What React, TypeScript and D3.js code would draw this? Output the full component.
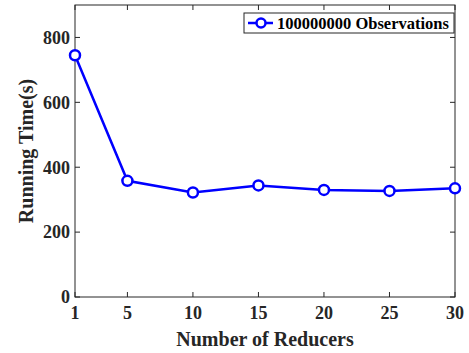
import React from "react";
import * as d3 from "d3";

const reducers = [1, 5, 10, 15, 20, 25, 30];
const runningTime = [745, 358, 322, 344, 330, 327, 335];
const xTicks = [1, 5, 10, 15, 20, 25, 30];
const yTicks = [0, 200, 400, 600, 800];
const seriesName = "100000000 Observations";
const xLabel = "Number of Reducers";
const yLabel = "Running Time(s)";

const W = 469, H = 353;
const M = { left: 75, right: 14, top: 5, bottom: 56 };
const FONT = "'Liberation Serif', 'Times New Roman', serif";

export default function App() {
  const x = d3.scaleLinear().domain([1, 30]).range([M.left, W - M.right]);
  const y = d3.scaleLinear().domain([0, 900]).range([H - M.bottom, M.top]);
  const line = d3.line<number>().x((_, i) => x(reducers[i])).y((d) => y(d));
  const axisColor = "#262626";
  const x0 = x.range()[0], x1 = x.range()[1], y0 = y.range()[0], y1 = y.range()[1];
  const tl = 5;
  const legX = 244, legY = 13, legW = 210, legH = 20;
  return (
    <svg width={W} height={H} style={{ position: "absolute", left: 0, top: 0, background: "#fff" }} fontFamily={FONT} fontWeight="bold">
      <rect x={0} y={0} width={W} height={H} fill="#fff" />
      {xTicks.map((t) => (
        <g key={"xt" + t}>
          <line x1={x(t)} x2={x(t)} y1={y0} y2={y0 - tl} stroke={axisColor} strokeWidth={1} />
          <line x1={x(t)} x2={x(t)} y1={y1} y2={y1 + tl} stroke={axisColor} strokeWidth={1} />
          <text x={x(t)} y={y0 + 22} textAnchor="middle" fontSize={18} fill="#262626">{t}</text>
        </g>
      ))}
      {yTicks.map((t) => (
        <g key={"yt" + t}>
          <line x1={x0} x2={x0 + tl} y1={y(t)} y2={y(t)} stroke={axisColor} strokeWidth={1} />
          <line x1={x1} x2={x1 - tl} y1={y(t)} y2={y(t)} stroke={axisColor} strokeWidth={1} />
          <text x={x0 - 5} y={y(t)} dy="0.35em" textAnchor="end" fontSize={18} fill="#262626">{t}</text>
        </g>
      ))}
      <rect x={x0} y={y1} width={x1 - x0} height={y0 - y1} fill="none" stroke={axisColor} strokeWidth={1} />
      <path d={line(runningTime) || ""} fill="none" stroke="#0000ff" strokeWidth={2.5} />
      {runningTime.map((v, i) => (
        <circle key={i} cx={x(reducers[i])} cy={y(v)} r={5} fill="#fff" stroke="#0000ff" strokeWidth={2.5} />
      ))}
      <text x={(x0 + x1) / 2} y={346} textAnchor="middle" fontSize={20} fill="#262626">{xLabel}</text>
      <text transform={`translate(33, ${(y0 + y1) / 2}) rotate(-90)`} textAnchor="middle" fontSize={20} fill="#262626">{yLabel}</text>
      <rect x={legX} y={legY} width={legW} height={legH} fill="#fff" stroke={axisColor} strokeWidth={1} />
      <line x1={legX + 4} x2={legX + 29} y1={legY + legH / 2} y2={legY + legH / 2} stroke="#0000ff" strokeWidth={2.5} />
      <circle cx={legX + 17} cy={legY + legH / 2} r={4.5} fill="#fff" stroke="#0000ff" strokeWidth={2.5} />
      <text x={legX + 33} y={legY + legH / 2} dy="0.35em" fontSize={16.5} fill="#000">{seriesName}</text>
    </svg>
  );
}
